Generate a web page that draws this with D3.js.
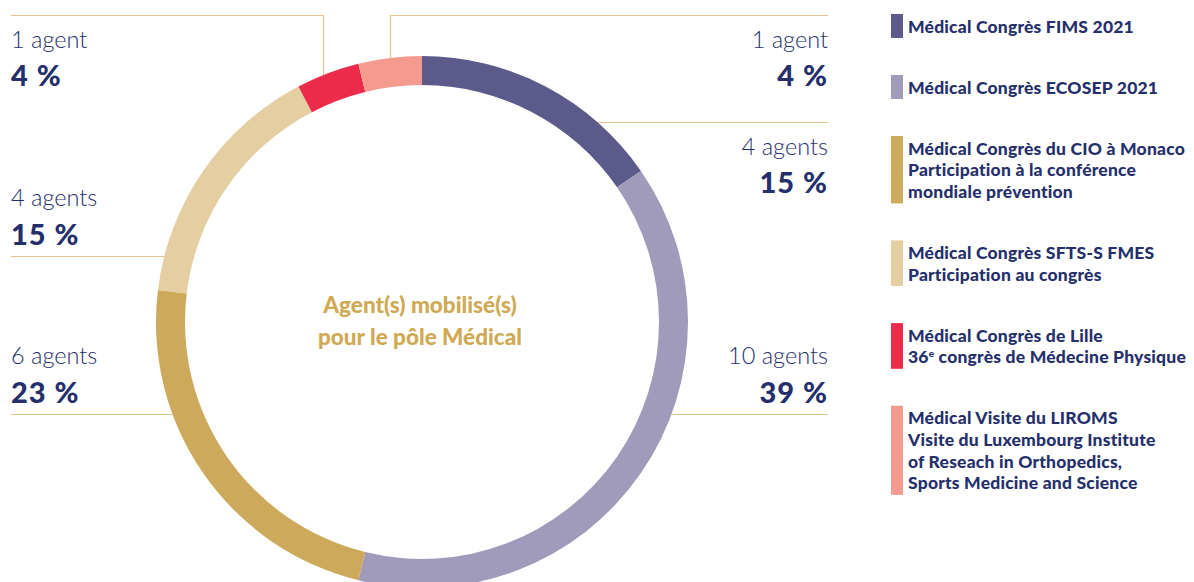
<!DOCTYPE html>
<html><head><meta charset="utf-8">
<script src="https://cdn.jsdelivr.net/npm/d3@7"></script>
<style>
html,body{margin:0;padding:0;background:#fff;}
svg{display:block;}
</style></head>
<body>
<svg id="chart" width="1194" height="582"></svg>
<script>
// ---- data ----
const categories = ["FIMS", "ECOSEP", "CIO", "SFTS-S", "Lille", "LIROMS"];
const agents = [4, 10, 6, 4, 1, 1];
const percentLabels = ["15 %", "39 %", "23 %", "15 %", "4 %", "4 %"];
const countLabels = ["4 agents", "10 agents", "6 agents", "4 agents", "1 agent", "1 agent"];
const legendLines = [
  ["Médical Congrès FIMS 2021"],
  ["Médical Congrès ECOSEP 2021"],
  ["Médical Congrès du CIO à Monaco", "Participation à la conférence", "mondiale prévention"],
  ["Médical Congrès SFTS-S FMES", "Participation au congrès"],
  ["Médical Congrès de Lille", "36|e| congrès de Médecine Physique"],
  ["Médical Visite du LIROMS", "Visite du Luxembourg Institute", "of Reseach in Orthopedics,", "Sports Medicine and Science"]
];
const centerTitle = ["Agent(s) mobilisé(s)", "pour le pôle Médical"];

// ---- style / layout ----
const colors = ["#5b5a8a", "#a09bbb", "#cda95b", "#e5cfa2", "#ec2a4a", "#f59a8f"];
const navy = "#252f6b";
const lineColor = "#e0c68c";
const cx = 422, cy = 322, R = 266, r = 237;
const labelLayout = [
  {side: "right", y: 122, kind: "below"},
  {side: "right", y: 414, kind: "above"},
  {side: "left",  y: 414, kind: "above"},
  {side: "left",  y: 256, kind: "above"},
  {side: "left",  y: 15,  kind: "top", dx: -5},
  {side: "right", y: 15,  kind: "top", dx: 0}
];
const leftX = 11, rightX = 828;

const svg = d3.select("#chart");
const pie = d3.pie().sort(null).value(d => d)(agents);
const arc = d3.arc().innerRadius(r).outerRadius(R);

const gl = svg.append("g");
pie.forEach((p, i) => {
  const L = labelLayout[i];
  const tx = L.side === "left" ? leftX : rightX;
  if (L.kind === "top") {
    const mid = (p.startAngle + p.endAngle) / 2;
    const vx = Math.round(cx + R * Math.sin(mid) + L.dx) + 0.5;
    const vy = cy - Math.sqrt(R * R - (vx - cx) * (vx - cx)) + 6;
    gl.append("path").attr("d", `M${tx},${L.y + 0.5}H${vx}V${vy}`)
      .attr("fill", "none").attr("stroke", lineColor).attr("stroke-width", 1.2);
  } else {
    const dy = L.y - cy;
    const ex = cx + (L.side === "left" ? -1 : 1) * (Math.sqrt(R * R - dy * dy) - 4);
    gl.append("line").attr("x1", tx).attr("x2", ex).attr("y1", L.y + 0.5).attr("y2", L.y + 0.5)
      .attr("stroke", lineColor).attr("stroke-width", 1.2);
  }
  const anchor = L.side === "left" ? "start" : "end";
  let b1, b2;
  if (L.kind === "above") { b1 = L.y - 50; b2 = L.y - 11; }
  else { b1 = L.y + 33; b2 = L.y + 71; }
  gl.append("text").attr("x", tx).attr("y", b1).attr("text-anchor", anchor)
    .attr("font-family", "Lato, sans-serif").attr("font-weight", 300).attr("font-size", 23.5)
    .attr("fill", navy).text(countLabels[i]);
  gl.append("text").attr("x", tx).attr("y", b2).attr("text-anchor", anchor)
    .attr("font-family", "Lato, sans-serif").attr("font-weight", 900).attr("font-size", 29)
    .attr("letter-spacing", 1).attr("fill", navy).text(percentLabels[i]);
});

svg.append("g").attr("transform", `translate(${cx},${cy})`)
  .selectAll("path").data(pie).join("path")
  .attr("d", arc).attr("fill", (d, i) => colors[i]);

svg.append("text").attr("x", cx - 2).attr("y", 313).attr("text-anchor", "middle")
  .attr("font-family", "Lato, sans-serif").attr("font-weight", 900).attr("font-size", 22.5)
  .attr("fill", "#cfa954")
  .selectAll("tspan").data(centerTitle).join("tspan")
  .attr("x", cx - 2).attr("dy", (d, i) => i ? 32 : 0).text(d => d);

const lg = svg.append("g");
const lh = 21.7, sw = 12, gap = 37;
let yTop = 14;
legendLines.forEach((lines, i) => {
  const h = (lines.length - 1) * lh + 24;
  lg.append("rect").attr("x", 891).attr("y", yTop).attr("width", sw).attr("height", h)
    .attr("fill", colors[i]);
  const t = lg.append("text").attr("font-family", "Lato, sans-serif").attr("font-weight", 900)
    .attr("font-size", 17.5).attr("letter-spacing", 0.2).attr("fill", navy);
  lines.forEach((ln, j) => {
    const y = yTop + 18.5 + j * lh;
    const parts = ln.split("|");
    t.append("tspan").attr("x", 908).attr("y", y).text(parts[0]);
    if (parts.length > 1) {
      t.append("tspan").attr("dy", -6).attr("font-size", 10).text(parts[1]);
      t.append("tspan").attr("dy", 6).text(parts[2]);
    }
  });
  yTop += h + gap;
});
</script>
</body></html>
